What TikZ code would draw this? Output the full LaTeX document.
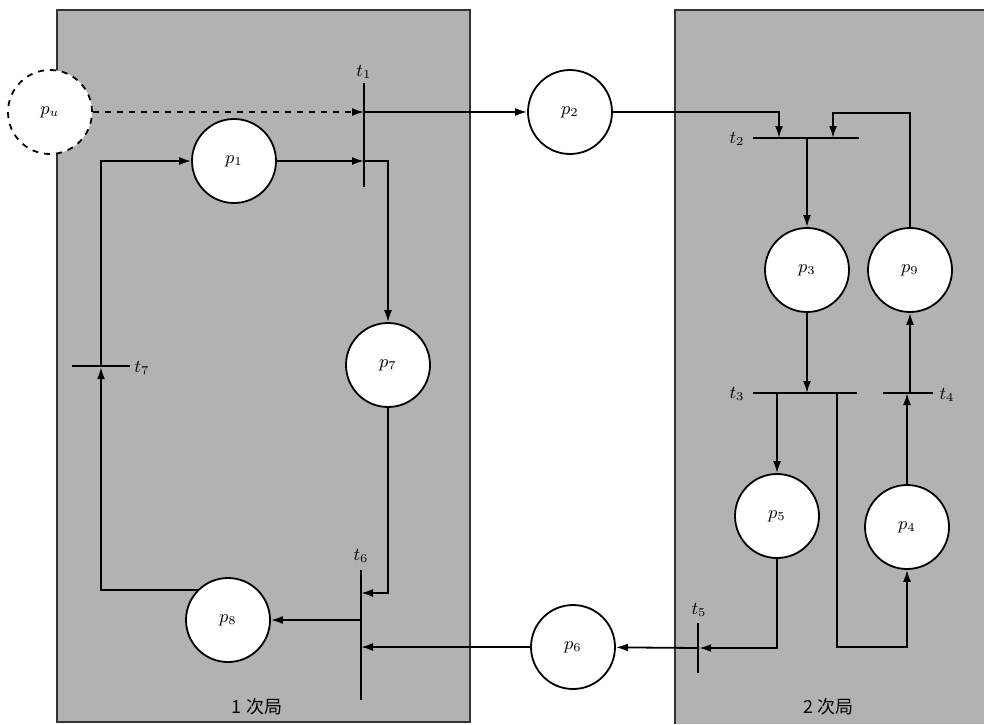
\documentclass[tikz,border=0pt]{standalone}
\usepackage{fontspec}
\newfontfamily\cjk{Noto Sans CJK SC}
\usetikzlibrary{arrows.meta}

\begin{document}
\begin{tikzpicture}[x=0.5pt, y=-0.5pt,
        place/.style={circle, draw, fill=white, line width=0.9pt, minimum size=42pt, inner sep=0pt, font=\small},
        vbar/.style={fill=black, inner sep=0pt, minimum width=0.8pt, minimum height=#1},
        hbar/.style={fill=black, inner sep=0pt, minimum height=0.8pt, minimum width=#1},
        region/.style={fill=black!30},
        edge/.style={draw=black!80, line width=0.6pt},
        arr/.style={-{Latex[length=6pt, width=4pt]}, line width=0.9pt},
        lab/.style={font=\small}
    ]
        \useasboundingbox (0,0) rectangle (984,724);

        % the two subsystems
        \fill[region] (57,10) rectangle (470,722);
        \fill[region] (675,10) rectangle (984,724);
        \draw[edge] (57,722) -- (57,10) -- (470,10) -- (470,722) -- cycle;
        \draw[edge] (675,724) -- (675,10) -- (984,10);

        % places
        \node[place, dashed] (pu) at (50,112) {$p_u$};
        \node[place] (p1) at (234,161) {$p_1$};
        \node[place] (p2) at (570,112) {$p_2$};
        \node[place] (p7) at (388,365) {$p_7$};
        \node[place] (p8) at (228,620) {$p_8$};
        \node[place] (p6) at (573,647) {$p_6$};
        \node[place] (p3) at (807,270) {$p_3$};
        \node[place] (p9) at (910,270) {$p_9$};
        \node[place] (p5) at (777,516) {$p_5$};
        \node[place] (p4) at (907,527) {$p_4$};

        % transitions
        \node[vbar=52pt] (t1) at (364,135) {};
        \node[hbar=53pt] (t2) at (806,138) {};
        \node[hbar=52pt] (t3) at (805,393) {};
        \node[hbar=25pt] (t4) at (908,393) {};
        \node[vbar=25pt] (t5) at (698,648) {};
        \node[vbar=65pt] (t6) at (361,635) {};
        \node[hbar=29pt] (t7) at (101,366) {};

        \node[lab] (lt1) at (364,72) {$t_1$};
        \node[lab] (lt2) at (737,139) {$t_2$};
        \node[lab] (lt3) at (737,394) {$t_3$};
        \node[lab] (lt4) at (947,395) {$t_4$};
        \node[lab] (lt5) at (699,610) {$t_5$};
        \node[lab] (lt6) at (361,556) {$t_6$};
        \node[lab] (lt7) at (142,368) {$t_7$};

        \node[lab] (sys1) at (257,707) {\cjk 1 次局};
        \node[lab] (sys2) at (828,707) {\cjk 2 次局};

        % arcs of subsystem 1
        \draw[arr, dashed] (pu) -- (pu -| t1);
        \draw[arr] (pu -| t1) -- (p2);
        \draw[arr] (p1) -- (p1 -| t1);
        \draw[arr] (p1 -| t1) -| (p7);
        \draw[arr] (p7) |- (t6 |- 0,593);
        \draw[arr] (p6) -- (p6 -| t6);
        \draw[arr] (t6 |- p8) -- (p8);
        \draw[arr] (p8.135) -| (t7);
        \draw[arr] (t7) |- (p1);

        % arcs of subsystem 2
        \draw[arr] (p2) -| (t2 -| 779,0);
        \draw[arr] (p9) |- (833,113) -- (t2 -| 833,0);
        \draw[arr] (p3 |- t2) -- (p3);
        \draw[arr] (p3) -- (p3 |- t3);
        \draw[arr] (p5 |- t3) -- (p5);
        \draw[arr] (t3 -| 837,0) -- (837,647) -| (p4);
        \draw[arr] (p4) -- (p4 |- t4);
        \draw[arr] (p9 |- t4) -- (p9);
        \draw[arr] (p5) |- (t5);
        \draw[arr] (t5) -- (p6);
    \end{tikzpicture}
\end{document}
